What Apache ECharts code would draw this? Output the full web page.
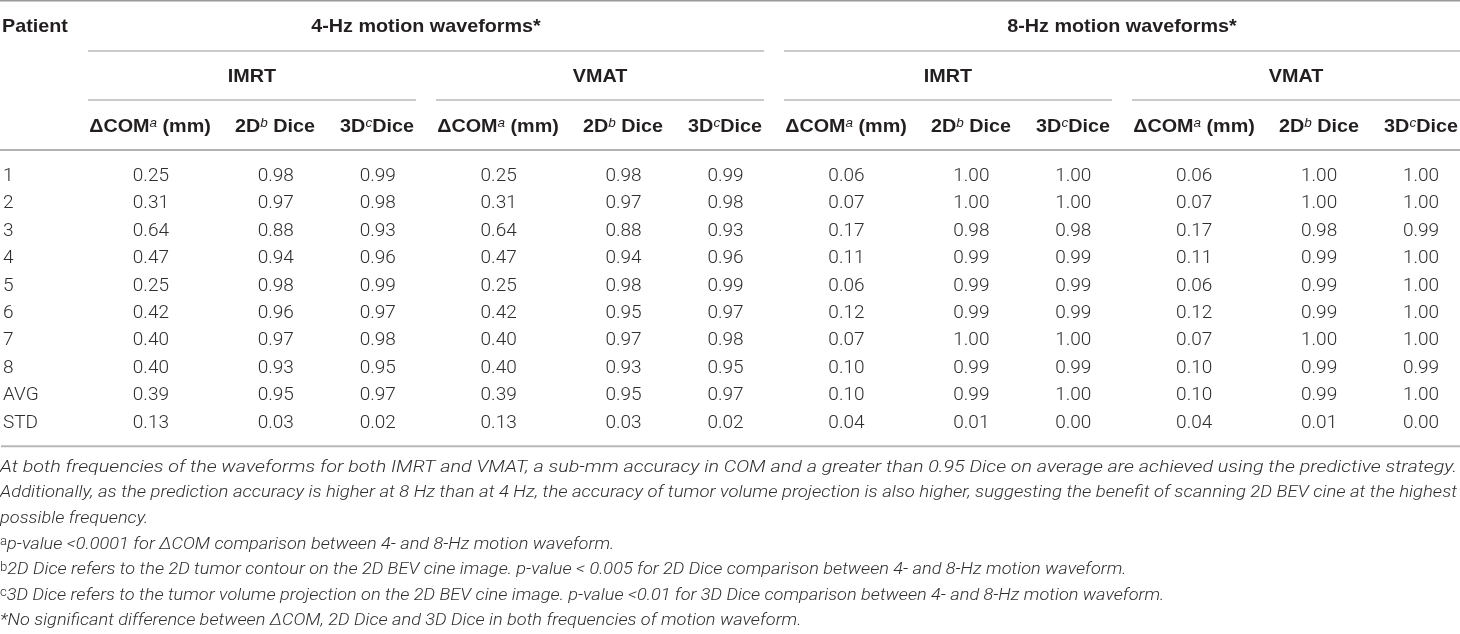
<!DOCTYPE html>
<html><head><meta charset="utf-8">
<script src="https://cdn.jsdelivr.net/npm/echarts@6/dist/echarts.min.js"></script>
<style>html,body{margin:0;padding:0;background:#fff}#c{width:1460px;height:634px}</style>
</head><body><div id="c"></div>
<script>
// ---------------- DATA ----------------
const patients = ['1','2','3','4','5','6','7','8','AVG','STD'];
const frequencyGroups = ['4-Hz motion waveforms*', '8-Hz motion waveforms*'];
const techniques = ['IMRT', 'VMAT'];
const metricLabels = ['{h|ΔCOM}{hs|a}{h| (mm)}', '{h|2D}{hs|b}{h| Dice}', '{h|3D}{hs|c}{h|Dice}'];

const hz4ImrtCom = [0.25,0.31,0.64,0.47,0.25,0.42,0.40,0.40,0.39,0.13];
const hz4ImrtDice2D = [0.98,0.97,0.88,0.94,0.98,0.96,0.97,0.93,0.95,0.03];
const hz4ImrtDice3D = [0.99,0.98,0.93,0.96,0.99,0.97,0.98,0.95,0.97,0.02];
const hz4VmatCom = [0.25,0.31,0.64,0.47,0.25,0.42,0.40,0.40,0.39,0.13];
const hz4VmatDice2D = [0.98,0.97,0.88,0.94,0.98,0.95,0.97,0.93,0.95,0.03];
const hz4VmatDice3D = [0.99,0.98,0.93,0.96,0.99,0.97,0.98,0.95,0.97,0.02];
const hz8ImrtCom = [0.06,0.07,0.17,0.11,0.06,0.12,0.07,0.10,0.10,0.04];
const hz8ImrtDice2D = [1.00,1.00,0.98,0.99,0.99,0.99,1.00,0.99,0.99,0.01];
const hz8ImrtDice3D = [1.00,1.00,0.98,0.99,0.99,0.99,1.00,0.99,1.00,0.00];
const hz8VmatCom = [0.06,0.07,0.17,0.11,0.06,0.12,0.07,0.10,0.10,0.04];
const hz8VmatDice2D = [1.00,1.00,0.98,0.99,0.99,0.99,1.00,0.99,0.99,0.01];
const hz8VmatDice3D = [1.00,1.00,0.99,1.00,1.00,1.00,1.00,0.99,1.00,0.00];

const footnotes = [
  '{f|At both frequencies of the waveforms for both IMRT and VMAT, a sub-mm accuracy in COM and a greater than 0.95 Dice on average are achieved using the predictive strategy.}',
  '{f|Additionally, as the prediction accuracy is higher at 8 Hz than at 4 Hz, the accuracy of tumor volume projection is also higher, suggesting the benefit of scanning 2D BEV cine at the highest}',
  '{f|possible frequency.}',
  '{fs|a}{f|p-value <0.0001 for ΔCOM comparison between 4- and 8-Hz motion waveform.}',
  '{fs|b}{f|2D Dice refers to the 2D tumor contour on the 2D BEV cine image. p-value < 0.005 for 2D Dice comparison between 4- and 8-Hz motion waveform.}',
  '{fs|c}{f|3D Dice refers to the tumor volume projection on the 2D BEV cine image. p-value <0.01 for 3D Dice comparison between 4- and 8-Hz motion waveform.}',
  '{f|*No significant difference between ΔCOM, 2D Dice and 3D Dice in both frequencies of motion waveform.}'
];

// column blocks: [frequency][technique] -> [com, dice2D, dice3D]
const blocks = [
  [[hz4ImrtCom, hz4ImrtDice2D, hz4ImrtDice3D], [hz4VmatCom, hz4VmatDice2D, hz4VmatDice3D]],
  [[hz8ImrtCom, hz8ImrtDice2D, hz8ImrtDice3D], [hz8VmatCom, hz8VmatDice2D, hz8VmatDice3D]]
];

// ---------------- LAYOUT / STYLE ----------------
const TOTAL_W = 1460;
const PATIENT_W = 88;
const CELL_W = [124, 126, 78];
const GROUP_GAP = 20;
const GROUP_W = CELL_W.reduce((a, b) => a + b, 0);
const HEAD = '#231f20', BODY = '#2e2e2e', RULE = '#9a9a9a', RULE_LIGHT = '#b8b8b8';
const HEAD_FONT = '"Liberation Sans", Arial, sans-serif';
const BODY_FONT = 'Roboto, "Liberation Sans", sans-serif';
const RICH = {
  h: { font: 'bold 19px ' + HEAD_FONT, fill: HEAD },
  hs: { font: 'italic 13px ' + HEAD_FONT, fill: HEAD, verticalAlign: 'top' },
  d: { font: '300 19px ' + BODY_FONT, fill: BODY },
  f: { font: 'italic 300 16.5px ' + BODY_FONT, fill: BODY },
  fs: { font: '300 12px ' + BODY_FONT, fill: BODY, verticalAlign: 'top' }
};
const HEAD_SX = 1.04;
const FOOT_SX = 1.1;
const JUSTIFY = [true, true, false, false, false, false, false];
const JUSTIFY_W = 1457;

function techStart(f, t) { return PATIENT_W + (f * 2 + t) * (GROUP_W + GROUP_GAP); }
function colCenter(f, t, m) {
  let s = techStart(f, t);
  for (let i = 0; i < m; i++) s += CELL_W[i];
  return s + CELL_W[m] / 2;
}

// ---------------- CELLS ----------------
const headCells = [];
const headRules = [];
headCells.push({ x: 2, row: 0, text: '{h|Patient}', align: 'left', sx: HEAD_SX });
headRules.push({ x0: 0, x1: TOTAL_W, row: 0, edge: 'top', dy: 0.8, color: RULE, w: 1.6 });
headRules.push({ x0: 0, x1: TOTAL_W, row: 2, edge: 'bottom', dy: 0, color: RULE, w: 1.4 });
frequencyGroups.forEach((fg, f) => {
  const x0 = techStart(f, 0), x1 = techStart(f, 1) + GROUP_W;
  headCells.push({ x: (x0 + x1) / 2, row: 0, text: '{h|' + fg + '}', sx: HEAD_SX });
  headRules.push({ x0, x1, row: 0, edge: 'bottom', dy: 1, color: RULE_LIGHT, w: 1.4 });
  techniques.forEach((tn, t) => {
    const s = techStart(f, t);
    headCells.push({ x: s + GROUP_W / 2, row: 1, text: '{h|' + tn + '}', sx: HEAD_SX });
    headRules.push({ x0: s, x1: s + GROUP_W, row: 1, edge: 'bottom', dy: 0, color: RULE_LIGHT, w: 1.4 });
    metricLabels.forEach((ml, m) => {
      headCells.push({ x: colCenter(f, t, m), row: 2, text: ml, sx: HEAD_SX });
    });
  });
});

const bodyCells = [];
blocks.forEach((fb, f) => fb.forEach((tb, t) => tb.forEach((arr, m) => {
  arr.forEach((v, r) => bodyCells.push({ x: colCenter(f, t, m), row: r, text: '{d|' + v.toFixed(2) + '}' }));
})));
const bodyRules = [{ x0: 0, x1: TOTAL_W, row: patients.length - 1, edge: 'bottom', dy: 9.5, color: RULE_LIGHT, w: 2 }];

const measureCtx = document.createElement('canvas').getContext('2d');
const footCells = footnotes.map((t, i) => {
  let sx = FOOT_SX;
  if (JUSTIFY[i]) {
    measureCtx.font = RICH.f.font;
    const plain = t.replace(/\{f\|/g, '').replace(/\}/g, '');
    sx = JUSTIFY_W / measureCtx.measureText(plain).width;
  }
  return { x: 0, row: i, text: t, align: 'left', sx };
});

function textRenderer(cells, dy) {
  return function (params, api) {
    const c = cells[params.dataIndex];
    const p = api.coord([c.x, c.row]);
    return {
      type: 'text', x: p[0], y: p[1] + dy, scaleX: c.sx || 1,
      style: { text: c.text, rich: RICH, align: c.align || 'center', verticalAlign: 'middle' }
    };
  };
}
function ruleRenderer(rules) {
  return function (params, api) {
    const r = rules[params.dataIndex];
    const p0 = api.coord([r.x0, r.row]);
    const p1 = api.coord([r.x1, r.row]);
    const band = api.size([0, 1])[1];
    const y = p0[1] + (r.edge === 'top' ? -band / 2 : band / 2) + r.dy;
    return {
      type: 'line', shape: { x1: p0[0], y1: y, x2: p1[0], y2: y },
      style: { stroke: r.color, lineWidth: r.w }
    };
  };
}

const hiddenX = (gi) => ({ type: 'value', gridIndex: gi, min: 0, max: TOTAL_W, show: false });
const option = {
  animation: false,
  backgroundColor: '#fff',
  grid: [
    { left: 0, right: 0, top: 0, height: 150 },
    { left: 0, right: 0, top: 162.3, height: 274.4 },
    { left: 0, right: 0, top: 455, height: 183.4 }
  ],
  xAxis: [hiddenX(0), hiddenX(1), hiddenX(2)],
  yAxis: [
    { type: 'category', gridIndex: 0, inverse: true, data: ['frequency', 'technique', 'metric'], show: false },
    {
      type: 'category', gridIndex: 1, inverse: true, data: patients,
      axisLine: { show: false }, axisTick: { show: false }, splitLine: { show: false },
      axisLabel: { inside: true, margin: 2, align: 'left', fontFamily: BODY_FONT, fontWeight: 300, fontSize: 19, color: BODY }
    },
    { type: 'category', gridIndex: 2, inverse: true, data: footnotes.map((_, i) => 'n' + i), show: false }
  ],
  series: [
    { type: 'custom', xAxisIndex: 0, yAxisIndex: 0, clip: false, silent: true, renderItem: ruleRenderer(headRules), data: headRules.map(r => [r.x0, r.row]) },
    { type: 'custom', xAxisIndex: 0, yAxisIndex: 0, clip: false, silent: true, renderItem: textRenderer(headCells, 1.5), data: headCells.map(c => [c.x, c.row]) },
    { type: 'custom', xAxisIndex: 1, yAxisIndex: 1, clip: false, silent: true, renderItem: textRenderer(bodyCells, 0), data: bodyCells.map(c => [c.x, c.row]) },
    { type: 'custom', xAxisIndex: 1, yAxisIndex: 1, clip: false, silent: true, renderItem: ruleRenderer(bodyRules), data: bodyRules.map(r => [r.x0, r.row]) },
    { type: 'custom', xAxisIndex: 2, yAxisIndex: 2, clip: false, silent: true, renderItem: textRenderer(footCells, 0), data: footCells.map(c => [c.x, c.row]) }
  ]
};
const chart = echarts.init(document.getElementById('c'));
chart.setOption(option);
</script>
</body></html>
